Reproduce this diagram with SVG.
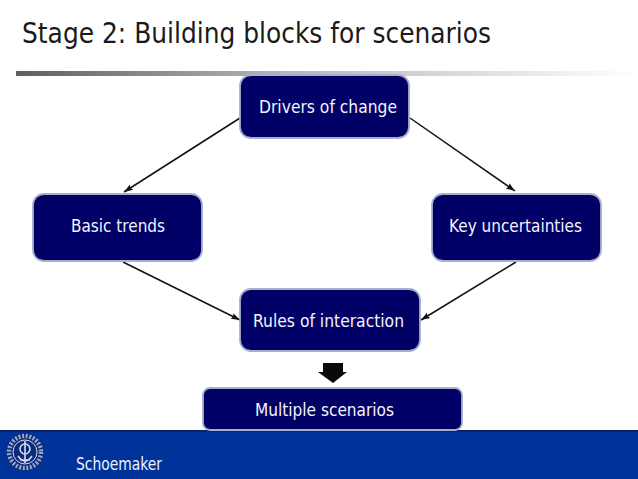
<svg xmlns="http://www.w3.org/2000/svg" width="638" height="479" viewBox="0 0 638 479">
<style>
.box{fill:#000066;stroke:#a9aecb;stroke-width:1.8}
.lbl{font-family:"DejaVu Sans",Verdana,sans-serif;font-size:18px;fill:#f4f4fb}
.con{stroke:#111;stroke-width:1.5;fill:none;marker-end:url(#arr)}
</style>
<defs>
<linearGradient id="rule" x1="0" x2="1" y1="0" y2="0"><stop offset="0" stop-color="#5f5f5f"/><stop offset=".42" stop-color="#b4b4b4"/><stop offset="1" stop-color="#ffffff"/></linearGradient>
<marker id="arr" markerUnits="userSpaceOnUse" markerWidth="10" markerHeight="8" refX="9" refY="4" orient="auto"><path d="M0 0.8L9 4L0 7.2L1.5 4Z" fill="#111"/></marker>
</defs>
<rect width="638" height="479" fill="#fff"/>
<text x="22" y="43" font-family="'DejaVu Sans',Verdana,sans-serif" font-size="29" fill="#1a1a1a" textLength="469" lengthAdjust="spacingAndGlyphs">Stage 2: Building blocks for scenarios</text>
<rect x="16" y="71" width="622" height="5" fill="url(#rule)"/>
<g id="footer">
<rect x="0" y="430" width="638" height="49" fill="#003399"/>
<rect x="0" y="430" width="638" height="1.5" fill="#0a1a60"/>
<circle cx="25" cy="452" r="19" fill="#0a2a7a"/>
<g fill="none" stroke="#d5dbee">
<circle cx="25" cy="452" r="16" stroke-width="4.5" stroke-dasharray="2 1.6" opacity=".7"/>
<circle cx="25" cy="452" r="12" stroke-width="1"/>
<circle cx="25" cy="449" r="5" stroke-width="1.6"/>
<path d="M25 441V463M18 456Q25 466 32 456M20 460H30" stroke-width="1.6"/>
</g>
<text x="76" y="470" font-family="'DejaVu Sans',Verdana,sans-serif" font-size="17" fill="#eef1fa" textLength="86" lengthAdjust="spacingAndGlyphs">Schoemaker</text>
</g>
<g id="connectors">
<path class="con" d="M240 118L124 192"/>
<path class="con" d="M410 118L515 191"/>
<path class="con" d="M123 262L240 320"/>
<path class="con" d="M516 262L421 320"/>
<path d="M323 363H343V372H347L333 383L318 372H323Z" fill="#0a0a0a"/>
</g>
<g id="drivers"><rect class="box" x="240" y="75" width="169" height="63" rx="11"/><text class="lbl" x="259" y="113" textLength="138" lengthAdjust="spacingAndGlyphs">Drivers of change</text></g>
<g id="trends"><rect class="box" x="33" y="194" width="169" height="67" rx="11"/><text class="lbl" x="71" y="232" textLength="94" lengthAdjust="spacingAndGlyphs">Basic trends</text></g>
<g id="uncertainties"><rect class="box" x="432" y="194" width="169" height="67" rx="11"/><text class="lbl" x="449" y="232" textLength="133" lengthAdjust="spacingAndGlyphs">Key uncertainties</text></g>
<g id="rules"><rect class="box" x="240" y="289" width="180" height="62" rx="11"/><text class="lbl" x="253" y="327" textLength="151" lengthAdjust="spacingAndGlyphs">Rules of interaction</text></g>
<g id="multiple"><rect class="box" x="203" y="388" width="259" height="42" rx="7"/><text class="lbl" x="255" y="416" textLength="139" lengthAdjust="spacingAndGlyphs">Multiple scenarios</text></g>
</svg>
